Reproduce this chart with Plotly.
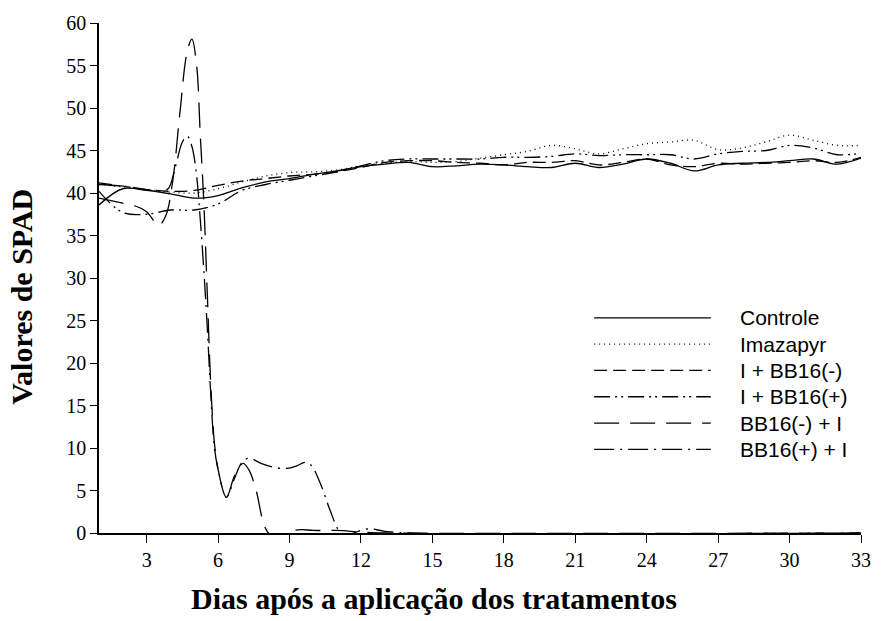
import plotly.graph_objects as go

# ---------------- data ----------------
days = list(range(1, 34))

controle = [38.6, 40.5, 40.3, 39.9, 39.4, 39.7, 40.6, 41.3, 41.7, 42.2, 42.6, 43.1, 43.4,
            43.6, 43.1, 43.2, 43.4, 43.3, 43.1, 43.0, 43.5, 43.0, 43.4, 44.0, 43.5, 42.6,
            43.3, 43.5, 43.6, 43.8, 44.0, 43.4, 44.1]
imazapyr = [41.0, 40.7, 40.4, 40.1, 40.0, 40.5, 41.3, 42.0, 42.4, 42.5, 42.7, 43.2, 43.5,
            43.7, 43.6, 43.7, 44.1, 44.5, 44.9, 45.6, 45.2, 44.6, 45.2, 45.8, 46.0, 46.2,
            45.1, 45.3, 46.0, 46.8, 46.2, 45.6, 45.6]
i_bb16_neg = [41.2, 40.8, 40.4, 40.2, 40.3, 40.9, 41.4, 41.7, 42.0, 42.2, 42.5, 43.0, 43.6,
              43.8, 43.8, 43.6, 43.5, 43.3, 43.6, 43.6, 43.8, 43.3, 43.6, 44.0, 43.3, 43.1,
              43.5, 43.4, 43.5, 43.6, 43.8, 43.6, 44.2]
i_bb16_pos = [40.2, 37.7, 37.5, 38.0, 38.0, 38.7, 40.3, 41.0, 41.5, 42.0, 42.5, 43.2, 43.8,
              44.0, 44.0, 44.0, 44.0, 44.2, 44.2, 44.3, 44.6, 44.4, 44.5, 44.5, 44.5, 44.0,
              44.6, 44.9, 45.0, 45.6, 45.3, 44.5, 44.7]

bb16neg_i_days = [1, 1.5, 2, 2.5, 3, 3.5, 3.8, 4.1, 4.4, 4.7, 4.9, 5.1, 5.25, 5.4, 5.55,
                  5.7, 5.85, 6.0, 6.35, 6.7, 7.05, 7.3, 7.6, 7.95, 8.2, 8.6, 9.0, 9.5,
                  10.0, 11, 12, 13, 33]
bb16neg_i = [39.4, 39.1, 38.8, 38.5, 37.8, 36.2, 37.3, 41.5, 49.5, 56.6, 58.1, 55.0, 47.0,
             39.0, 28.0, 17.0, 10.5, 7.5, 4.2, 6.8, 8.2, 7.4, 5.0, 0.8, -0.2, -0.3, 0.2,
             0.4, 0.3, 0.3, 0.1, 0.0, 0.0]

bb16pos_i_days = [1, 2, 3, 3.5, 3.9, 4.2, 4.5, 4.7, 4.9, 5.1, 5.25, 5.4, 5.55, 5.7, 5.85,
                  6.0, 6.35, 6.7, 7.0, 7.3, 7.8, 8.4, 8.9, 9.3, 9.65, 9.9, 10.3, 10.7,
                  11.1, 11.4, 11.7, 12.3, 13, 14, 33]
bb16pos_i = [41.0, 40.8, 40.4, 40.2, 40.5, 43.0, 46.0, 46.7, 45.5, 42.0, 37.0, 31.0, 24.0,
             16.0, 10.0, 7.5, 4.2, 6.5, 8.3, 8.8, 8.2, 7.7, 7.6, 7.9, 8.3, 8.0, 5.8, 2.7,
             0.2, -0.3, 0.0, 0.5, 0.2, 0.0, 0.0]

series_names = ["Controle", "Imazapyr", "I + BB16(-)", "I + BB16(+)", "BB16(-) + I", "BB16(+) + I"]
series_x = [days, days, days, days, bb16neg_i_days, bb16pos_i_days]
series_y = [controle, imazapyr, i_bb16_neg, i_bb16_pos, bb16neg_i, bb16pos_i]
dash_styles = ["solid", "1px,4px", "13px,6px", "16px,5px,2px,4px,2px,5px",
               "25px,11px", "20px,6px,2px,6px"]

x_ticks = list(range(3, 34, 3))
y_ticks = list(range(0, 61, 5))

# ---------------- figure ----------------
W, H = 883, 621
L, R, T, B = 99, 13, 21, 88
fig = go.Figure()

for name, xs, ys, dash in zip(series_names, series_x, series_y, dash_styles):
    fig.add_trace(go.Scatter(x=xs, y=ys, mode="lines", name=name, showlegend=False,
                             line=dict(color="black", width=1.3, dash=dash,
                                       shape="spline", smoothing=1.0)))

# custom legend (long sample lines)
pw = W - L - R
ph = H - T - B
leg_x0 = (600 - L) / pw
leg_x1 = (718 - L) / pw
leg_tx = (746 - L) / pw
for i, (name, dash) in enumerate(zip(series_names, dash_styles)):
    py = 317 + i * 26.4
    yp = (H - B - py) / ph
    fig.add_shape(type="line", xref="paper", yref="paper", x0=leg_x0, x1=leg_x1,
                  y0=yp, y1=yp, line=dict(color="black", width=1.3, dash=dash))
    fig.add_annotation(xref="paper", yref="paper", x=leg_tx, y=yp, text=name,
                       showarrow=False, xanchor="left", yanchor="middle",
                       font=dict(family="Liberation Sans, Arial", size=21, color="black"))

# axis titles
fig.add_annotation(xref="paper", yref="paper", x=(438 - L) / pw, y=(H - B - 599) / ph,
                   text="<b>Dias após a aplicação dos tratamentos</b>", showarrow=False,
                   xanchor="center", yanchor="middle",
                   font=dict(family="Liberation Serif, Times New Roman", size=30, color="black"))
fig.add_annotation(xref="paper", yref="paper", x=(21 - L) / pw, y=(H - B - 296) / ph,
                   text="<b>Valores de SPAD</b>", showarrow=False, textangle=-90,
                   xanchor="center", yanchor="middle",
                   font=dict(family="Liberation Serif, Times New Roman", size=30, color="black"))

axis_font = dict(family="Liberation Serif, Times New Roman", size=20, color="black")
fig.update_xaxes(range=[1, 33], tickvals=x_ticks, ticktext=[str(v) for v in x_ticks],
                 ticks="outside", ticklen=8, tickwidth=1.3, tickcolor="black",
                 showline=True, linecolor="black", linewidth=1.5, showgrid=False,
                 zeroline=False, tickfont=axis_font)
fig.update_yaxes(range=[0, 60], tickvals=y_ticks, ticktext=[str(v) for v in y_ticks],
                 ticks="outside", ticklen=7, tickwidth=1.3, tickcolor="black",
                 showline=True, linecolor="black", linewidth=1.5, showgrid=False,
                 zeroline=False, tickfont=axis_font)

fig.update_layout(width=W, height=H, margin=dict(l=L, r=R, t=T, b=B),
                  paper_bgcolor="white", plot_bgcolor="white", showlegend=False)

fig.write_html("out.html")
